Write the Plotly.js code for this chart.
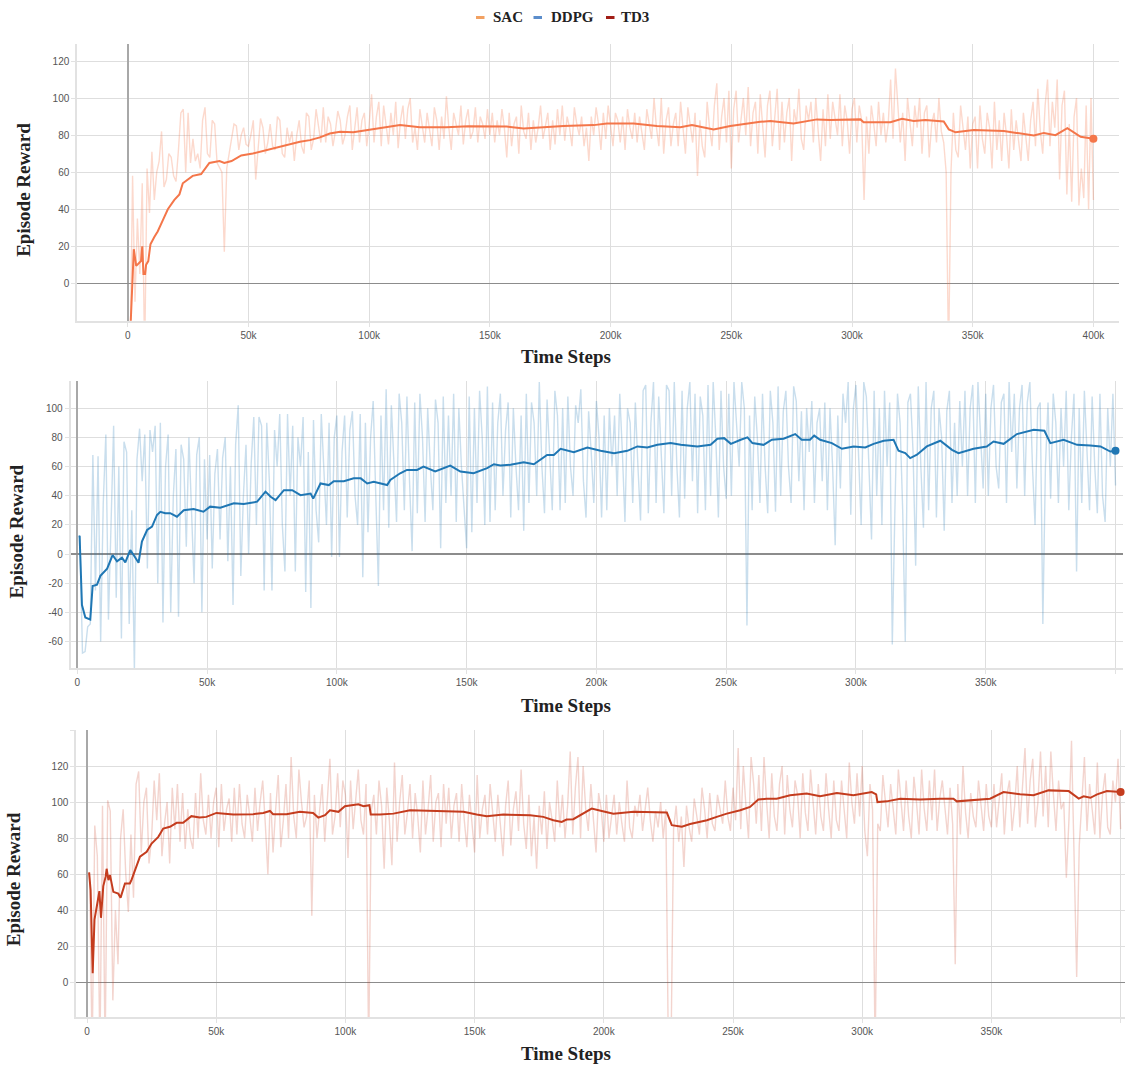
<!DOCTYPE html>
<html>
<head>
<meta charset="utf-8">
<script src="https://cdn.plot.ly/plotly-3.0.1.min.js"></script>
<style>
html,body{margin:0;padding:0;background:#fff;}
#chart{width:1125px;height:1068px;}
</style>
</head>
<body>
<div id="chart"></div>
<script>
// ---------------- DATA (time steps in thousands, rewards) ----------------
const legendNames = ['SAC', 'DDPG', 'TD3'];

const rawStepsK = [1,2,3,4,5,6,7,8,9,10,11,12,13,14,15,16,17,18,19,20,
21,22,23,24,25,26,27,28,29,30,31,32,33,34,35,36,37,38,39,40,
41,42,43,44,45,46,47,48,49,50,51,52,53,54,55,56,57,58,59,60,
61,62,63,64,65,66,67,68,69,70,71,72,73,74,75,76,77,78,79,80,
81,82,83,84,85,86,87,88,89,90,91,92,93,94,95,96,97,98,99,100,
101,102,103,104,105,106,107,108,109,110,111,112,113,114,115,116,117,118,119,120,
121,122,123,124,125,126,127,128,129,130,131,132,133,134,135,136,137,138,139,140,
141,142,143,144,145,146,147,148,149,150,151,152,153,154,155,156,157,158,159,160,
161,162,163,164,165,166,167,168,169,170,171,172,173,174,175,176,177,178,179,180,
181,182,183,184,185,186,187,188,189,190,191,192,193,194,195,196,197,198,199,200,
201,202,203,204,205,206,207,208,209,210,211,212,213,214,215,216,217,218,219,220,
221,222,223,224,225,226,227,228,229,230,231,232,233,234,235,236,237,238,239,240,
241,242,243,244,245,246,247,248,249,250,251,252,253,254,255,256,257,258,259,260,
261,262,263,264,265,266,267,268,269,270,271,272,273,274,275,276,277,278,279,280,
281,282,283,284,285,286,287,288,289,290,291,292,293,294,295,296,297,298,299,300,
301,302,303,304,305,306,307,308,309,310,311,312,313,314,315,316,317,318,319,320,
321,322,323,324,325,326,327,328,329,330,331,332,333,334,335,336,337,338,339,340,
341,342,343,344,345,346,347,348,349,350,351,352,353,354,355,356,357,358,359,360,
361,362,363,364,365,366,367,368,369,370,371,372,373,374,375,376,377,378,379,380,
381,382,383,384,385,386,387,388,389,390,391,392,393,394,395,396,397,398,399,400];

const sacRaw = [-40,58,-10,35,5,54,-40,62,38,71, 45,60,66,82,52,56,70,68,58,55,
72,92,94,60,92,65,78,66,70,62, 88,95,70,68,88,86,65,62,60,17,
62,70,78,86,85,72,80,84,75,74, 80,88,56,72,89,84,70,76,86,74,
72,90,88,70,68,84,76,82,66,80, 88,74,70,92,90,72,78,94,84,76,
95,76,90,86,74,82,93,88,75,80, 90,96,72,84,95,76,88,92,74,86,
102,76,90,98,74,96,84,75,92,80, 98,73,88,96,78,94,100,76,84,72,
94,86,76,92,82,74,95,88,72,90, 78,101,84,72,92,86,80,96,75,88,
94,78,82,95,76,90,86,78,94,80, 92,76,88,80,94,84,68,92,74,86,
90,70,96,82,78,92,72,88,76,84, 96,78,86,92,72,88,75,94,80,96,
77,90,84,74,95,86,80,90,74,84, 66,90,80,95,86,72,92,78,96,84,
74,92,88,76,90,72,94,84,78,92, 76,90,82,72,94,86,78,100,84,74,
100,70,88,95,74,86,92,74,98,84, 70,95,86,76,92,58,88,74,68,98,
84,74,96,108,72,90,100,76,104,62, 94,104,76,88,100,80,106,74,92,98,
70,102,86,68,96,104,74,88,105,72, 98,76,92,100,66,94,86,105,78,72,
96,88,98,76,100,82,66,94,74,102, 78,98,90,80,102,74,96,88,70,94,
100,76,96,88,45,90,70,96,86,74, 98,80,92,76,86,110,78,116,96,76,
92,66,100,88,74,96,84,100,70,92, 96,68,86,92,76,100,82,76,60,-40,
60,92,72,68,96,84,72,90,62,86, 90,62,96,78,70,92,84,62,98,72,
88,66,92,80,62,94,72,88,76,66, 92,80,66,88,98,74,105,82,70,96,
110,74,98,84,110,56,96,104,48,86, 44,90,100,42,62,46,96,40,100,45];

const ddpgRaw = [12,-68,-67,-50,-48,68,-25,67,-60,35, 82,-45,20,88,-30,60,-58,77,70,-48,
30,-80,65,86,50,82,-10,85,70,88, -20,90,-47,60,82,-40,40,72,-43,75,
65,5,80,30,-20,68,80,-40,65,10, 68,-10,55,72,10,66,80,-5,60,-35,
75,102,-15,40,75,0,62,94,20,94, 88,-25,90,50,-25,85,60,96,20,-12,
96,40,88,-12,80,60,94,-26,70,-37, 92,30,8,96,60,20,90,-2,80,95,
-2,70,95,25,85,98,40,20,96,-16, 90,15,80,105,40,-22,95,30,113,18,
102,60,22,110,90,30,108,50,2,104, 28,110,80,22,100,60,30,106,90,4,
108,35,95,40,110,22,100,60,30,4, 108,15,100,35,112,80,20,115,22,104,
30,90,110,40,85,104,25,100,60,30, 95,16,110,35,104,90,40,118,60,28,
106,70,30,112,95,30,100,35,108,60, 40,102,90,113,50,25,98,70,35,105,
80,25,95,30,100,60,95,40,110,70, 22,100,90,35,104,60,23,112,116,28,
90,118,35,108,70,28,116,112,40,118, 60,25,112,38,100,118,50,110,28,108,
95,30,116,40,118,80,25,112,60,38, 110,40,118,90,60,118,100,-49,95,30,
108,80,35,110,60,28,112,90,29,115, 40,98,112,60,35,115,105,50,98,30,
100,70,105,35,90,100,50,104,30,100, 60,6,95,45,110,90,118,27,100,116,
70,20,118,108,60,10,112,40,100,20, 112,60,104,-62,30,110,90,30,-60,104,
110,70,-8,115,60,18,118,30,100,112, 25,100,80,16,98,112,35,90,40,105,
60,112,40,100,116,35,118,80,45,110, 40,100,116,60,45,104,110,35,118,70,
110,45,100,116,40,104,118,60,20,100, 104,-48,60,104,38,110,90,35,100,60,
112,30,80,110,-12,100,35,112,70,30, 108,60,28,110,40,22,100,60,110,47];

const td3Raw = [61,-40,87,70,-40,98,-40,101,95,-10, 40,10,80,96,60,39,82,47,110,117,
72,100,108,66,80,112,90,116,70,88, 100,66,108,85,110,78,105,74,96,80,
74,105,80,116,90,82,104,80,100,108, 75,110,84,96,102,78,108,82,110,88,
80,104,92,78,108,84,100,112,88,60, 105,72,96,115,75,90,110,80,125,92,
80,118,100,86,92,112,37,104,80,96, 110,78,100,124,82,92,116,86,112,104,
69,112,85,100,118,90,82,110,-40,95, 104,82,112,98,63,108,90,65,122,78,
100,115,82,94,110,80,105,92,72,112, 82,96,115,78,100,105,75,110,88,108,
80,98,105,78,110,90,75,104,86,72, 115,80,96,104,82,110,94,78,104,86,
70,98,112,76,96,106,84,118,88,74, 104,70,92,63,98,82,106,74,100,90,
78,112,86,104,80,98,128,82,108,125, 80,120,96,84,110,90,72,105,96,78,
104,80,92,104,82,100,88,78,112,86, 80,98,92,104,84,96,108,90,78,95,
86,100,80,96,-40,-40,85,98,78,92, 64,98,86,78,102,92,82,108,96,80,
105,88,84,104,96,88,112,92,84,108, 90,130,85,120,98,80,125,110,88,115,
84,125,100,80,116,92,84,110,120,82, 115,96,86,112,104,80,116,94,84,118,
100,82,110,92,84,116,96,80,112,90, 84,112,96,80,122,100,88,116,92,120,
84,70,110,96,-40,88,84,115,100,86, 110,94,82,118,100,84,112,92,80,114,
100,82,118,96,84,112,90,118,84,102, 112,96,82,108,88,10,110,82,120,94,
80,105,92,86,112,98,84,110,92,86, 110,86,100,116,82,104,112,84,98,120,
86,106,130,88,112,124,86,100,128,92, 120,86,128,104,84,112,96,100,58,90,
134,70,3,76,104,125,84,110,96,82, 122,80,104,116,86,82,112,100,124,85];

const sacSmoothK = [1.1,2.5,3.5,5.5,6.0,6.5,7.2,7.6,8.5,9.4,
11,12.4,14.5,16.6,19.3,21.4,22.8,24.8,26.9,30.4,
32.4,33.8,38,40,43,47,51.8,57.5,64.4,71.3,
75.5,79.6,83.7,87.9,93.4,99,104.5,112.8,121,132,
141,150,157,164,172,180.5,193,198.5,209.6,219.2,
228.9,233.7,242.7,249.6,262,266.2,275.8,285.5,291,303.5,
304.8,315.9,320.7,325.6,330.4,338,340.1,342.9,350.4,362.9,
375.3,379.5,384.3,389.2,394.7,400];
const sacSmooth = [-25,18.4,9.4,12,20,5,5,10,12,21,
25,28,34,40,45,48,54,56,58,59,
62.5,65,66,65,66,69,70.1,71.9,74.1,76.4,
77.3,78.8,80.9,81.8,81.6,82.7,83.9,85.4,84.2,84.2,
84.8,84.5,84.6,83.6,84.2,84.9,85.4,86.3,86.3,84.9,
84.2,85.4,83.1,84.9,87.2,87.6,86.3,88.5,88.1,88.5,
87.0,87.0,88.8,87.6,88.1,87.4,83.1,81.5,82.7,82.2,
79.8,81.2,80.0,83.8,79.1,78.0];

const ddpgSmoothK = [0.5,0.9,1.8,3.1,5.0,5.9,7.6,8.9,11.5,13.6,
15.3,17.2,18.5,20.4,21.7,23.6,24.9,26.9,28.8,30.7,
32.0,33.9,35.8,38.4,41.0,44.8,48.6,51.2,55.1,60.3,
64.1,69.3,72.5,74.5,76.4,79.6,82.8,86.0,89.9,90.9,
93.7,96.9,98.8,102.7,106.5,109.2,111.7,114.2,119.4,120.6,
124.4,127.0,130.9,133.4,137.9,143.7,147.6,152.7,157.9,160.5,
163.0,166.9,172.0,175.9,181.0,183.6,186.2,191.3,196.5,201.6,
206.8,211.9,215.8,219.6,223.5,228.6,232.5,238.9,244.0,246.6,
249.2,251.8,255.6,258.2,260.1,264.4,267.6,272.1,276.6,279.1,
282.3,283.9,286.2,290.7,294.6,299.1,303.6,306.8,310.7,314.5,
316.4,319.0,320.9,323.5,327.3,332.5,337.0,339.5,345.3,350.4,
353.0,356.9,362.0,365.9,368.5,372.6,374.9,380.0,385.2,390.3,
394.2,398.0,400];
const ddpgSmooth = [12.2,12,-35,-43.5,-45,-22,-21,-15,-10,-0.7,
-5,-2.5,-5.7,2.7,-0.7,-6,8.5,16.5,18.8,26.8,
29,28,28,25.6,30,30.9,29,32.5,31.8,34.8,
34.3,35.9,42.8,39.3,37,43.8,43.8,40.4,41.5,38,
48.4,47.3,50,50,51.9,51.9,48.4,49.5,47.3,50.8,
55.4,57.7,57.7,60,56.6,60.7,56.6,55.4,58.9,61.6,
60.7,61.2,63,61.6,68,68,72.2,69.9,73.1,70.8,
69.2,70.8,73.8,73.1,74.9,76.1,74.9,73.8,74.9,79.1,
79.5,75.6,78.4,80,76.1,74.9,78.4,79.1,82.3,78.4,
78.4,81.2,78.4,76.1,72.2,73.8,73.1,75.6,77.7,78.4,
70.8,69.2,65.8,68.1,73.8,77.7,71.5,69.2,72.2,73.8,
77.2,75.6,82.3,84.1,85.3,84.6,76.1,78.4,74.9,74.5,
73.8,70.3,70.8];

const td3SmoothK = [0.8,1.4,2.2,2.9,3.8,4.8,5.4,6.3,7.2,7.6,
8.3,8.9,10.2,12.1,13.0,14.7,16.6,17.3,18.6,20.5,
23.1,25.0,27.6,29.5,32.1,34.7,37.2,40.4,43.6,46.2,
50.1,56.6,64.3,68.2,70.8,72.0,77.2,82.4,87.5,89.5,
92.1,94.0,97.3,99.8,105.0,107.0,109.3,109.8,113.4,118.6,
125.0,135.3,145.7,150.8,154.7,161.1,171.5,176.6,180.5,183.7,
185.6,188.2,190.8,195.3,199.2,203.7,211.5,216.6,224.4,226.3,
230.2,233.4,239.9,243.7,247.6,252.8,256.6,259.8,263.0,266.9,
272.1,278.5,283.7,290.2,296.6,303.7,305.4,305.9,309.5,314.7,
322.4,330.2,335.3,336.6,343.1,349.5,354.7,361.1,366.3,372.1,
379.9,381.8,383.8,385.7,388.3,390.9,394.7,400];
const td3Smooth = [61,51.1,5,34.8,42.2,50.6,35.8,53.4,58.5,63,
56.7,59.5,50.2,49.2,47,54.9,54.9,57.1,62.3,69.7,
72.4,77,80.7,85.3,86.3,88.5,88.5,92.2,91.4,91.8,
94.0,93.1,93.3,94.0,95.1,93.3,93.3,94.6,94.0,91.4,
92.7,95.5,94.6,97.7,98.8,97.7,98.3,93.1,93.1,93.6,
95.5,95.1,94.6,93.1,92.2,93.1,92.7,91.8,89.9,89.0,
90.3,90.5,92.7,96.4,95.1,93.6,94.6,94.6,94.2,87.2,
86.3,87.8,89.9,91.8,93.6,95.5,97.3,101.4,101.9,101.9,
103.8,104.7,103.2,105.1,103.8,105.6,104.3,100,100.4,101.9,
101.4,101.9,101.9,100.4,101,101.9,105.6,104.3,103.8,106.5,
106.1,103.8,101.9,103.2,102.4,104.3,106.1,105.6];

const xTickVals = [0, 50000, 100000, 150000, 200000, 250000, 300000, 350000, 400000];
const xTickText1 = ['0','50k','100k','150k','200k','250k','300k','350k','400k'];
const xTickText23 = ['0','50k','100k','150k','200k','250k','300k','350k',''];
const yTickVals1 = [0,20,40,60,80,100,120];
const yTickVals2 = [-60,-40,-20,0,20,40,60,80,100];
const yTickVals3 = [0,20,40,60,80,100,120,140];
const yTickText3 = ['0','20','40','60','80','100','120',''];

const axisTitleX = 'Time Steps';
const axisTitleY = 'Episode Reward';

// ---------------- STYLE ----------------
const W = 1125, H = 1068;
const px = v => v / W;
const py = v => 1 - v / H;
const toSteps = arr => arr.map(v => v * 1000);
const last = arr => arr[arr.length - 1];

const colors = {
  sac:  {line: '#f4764a', raw: 'rgba(244,118,74,0.28)', legend: '#f2a162'},
  ddpg: {line: '#1f77b4', raw: 'rgba(31,119,180,0.24)', legend: '#5b8dcb'},
  td3:  {line: '#c43c1e', raw: 'rgba(201,60,34,0.22)', legend: '#a11d16'}
};

function series(key, rawY, smK, smY, xa, ya) {
  const c = colors[key];
  return [
    {x: toSteps(rawStepsK), y: rawY, xaxis: xa, yaxis: ya, type: 'scatter', mode: 'lines',
     line: {color: c.raw, width: 1.4}, hoverinfo: 'skip', showlegend: false},
    {x: toSteps(smK), y: smY, xaxis: xa, yaxis: ya, type: 'scatter', mode: 'lines',
     line: {color: c.line, width: 2}, hoverinfo: 'skip', showlegend: false},
    {x: [last(smK) * 1000], y: [last(smY)], xaxis: xa, yaxis: ya, type: 'scatter', mode: 'markers',
     marker: {color: c.line, size: 8}, hoverinfo: 'skip', showlegend: false, cliponaxis: false}
  ];
}

const data = [].concat(
  series('sac', sacRaw, sacSmoothK, sacSmooth, 'x', 'y'),
  series('ddpg', ddpgRaw, ddpgSmoothK, ddpgSmooth, 'x2', 'y2'),
  series('td3', td3Raw, td3SmoothK, td3Smooth, 'x3', 'y3')
);

const tickFont = {family: 'Liberation Sans, Arial, sans-serif', size: 10, color: '#555'};
function xAxis(domain, range, ticktext, anchor) {
  return {domain, range, anchor, tickvals: xTickVals, ticktext, tickfont: tickFont,
    showgrid: true, gridcolor: '#dedede', gridwidth: 1,
    showline: true, linecolor: '#e2e2e2', linewidth: 2,
    ticks: 'outside', ticklen: 4, tickcolor: '#e2e2e2',
    zeroline: true, zerolinecolor: '#a8a8a8', zerolinewidth: 2, fixedrange: true};
}
function yAxis(domain, range, tickvals, ticktext, anchor) {
  return {domain, range, anchor, tickvals, ticktext, tickfont: tickFont,
    showgrid: true, gridcolor: '#dedede', gridwidth: 1,
    showline: true, linecolor: '#e2e2e2', linewidth: 2,
    ticks: 'outside', ticklen: 4, tickcolor: '#e2e2e2',
    zeroline: true, zerolinecolor: '#8c8c8c', zerolinewidth: 1.2, fixedrange: true};
}

const titleFont = {family: 'Liberation Serif, Times New Roman, serif', size: 19, color: '#222', weight: 'bold'};
const legendFont = {family: 'Liberation Serif, Times New Roman, serif', size: 15, color: '#222', weight: 'bold'};

const annotations = [
  {text: axisTitleX, x: px(566), y: py(356.7)},
  {text: axisTitleX, x: px(566), y: py(705)},
  {text: axisTitleX, x: px(566), y: py(1053.3)},
  {text: axisTitleY, x: px(23.5), y: py(190.3), textangle: -90},
  {text: axisTitleY, x: px(16.7), y: py(531.7), textangle: -90},
  {text: axisTitleY, x: px(13.5), y: py(879.7), textangle: -90}
].map(a => Object.assign({xref: 'paper', yref: 'paper', showarrow: false,
  xanchor: 'center', yanchor: 'middle', font: titleFont}, a));

const legendItems = [
  {name: legendNames[0], c: colors.sac.legend,  sx: 476, tx: 490.5},
  {name: legendNames[1], c: colors.ddpg.legend, sx: 533.5, tx: 548.5},
  {name: legendNames[2], c: colors.td3.legend,  sx: 606, tx: 618.5}
];
const shapes = [];
legendItems.forEach(it => {
  annotations.push({text: it.name, xref: 'paper', yref: 'paper', x: px(it.tx), y: py(17),
    xanchor: 'left', yanchor: 'middle', showarrow: false, font: legendFont});
  shapes.push({type: 'rect', xref: 'paper', yref: 'paper', x0: px(it.sx), x1: px(it.sx + 8.5),
    y0: py(19), y1: py(16), fillcolor: it.c, line: {width: 0}});
});

const layout = {
  width: W, height: H,
  margin: {l: 0, r: 0, t: 0, b: 0, pad: 0},
  paper_bgcolor: '#fff', plot_bgcolor: '#fff',
  showlegend: false,
  hovermode: false,
  xaxis:  xAxis([px(77.3), px(1119)], [-20900, 410600], xTickText1, 'y'),
  yaxis:  yAxis([py(320.7), py(44)], [-20.2, 129.2], yTickVals1, yTickVals1.map(String), 'x'),
  xaxis2: xAxis([px(70.7), px(1123.3)], [-2540, 403000], xTickText23, 'y2'),
  yaxis2: yAxis([py(668.3), py(381)], [-78.4, 118.7], yTickVals2, yTickVals2.map(String), 'x2'),
  xaxis3: xAxis([px(76.3), 1], [-4140, 401700], xTickText23, 'y3'),
  yaxis3: yAxis([py(1017.3), py(730)], [-19.4, 140], yTickVals3, yTickText3, 'x3'),
  annotations, shapes
};

Plotly.newPlot('chart', data, layout, {staticPlot: true, displayModeBar: false});
</script>
</body>
</html>
